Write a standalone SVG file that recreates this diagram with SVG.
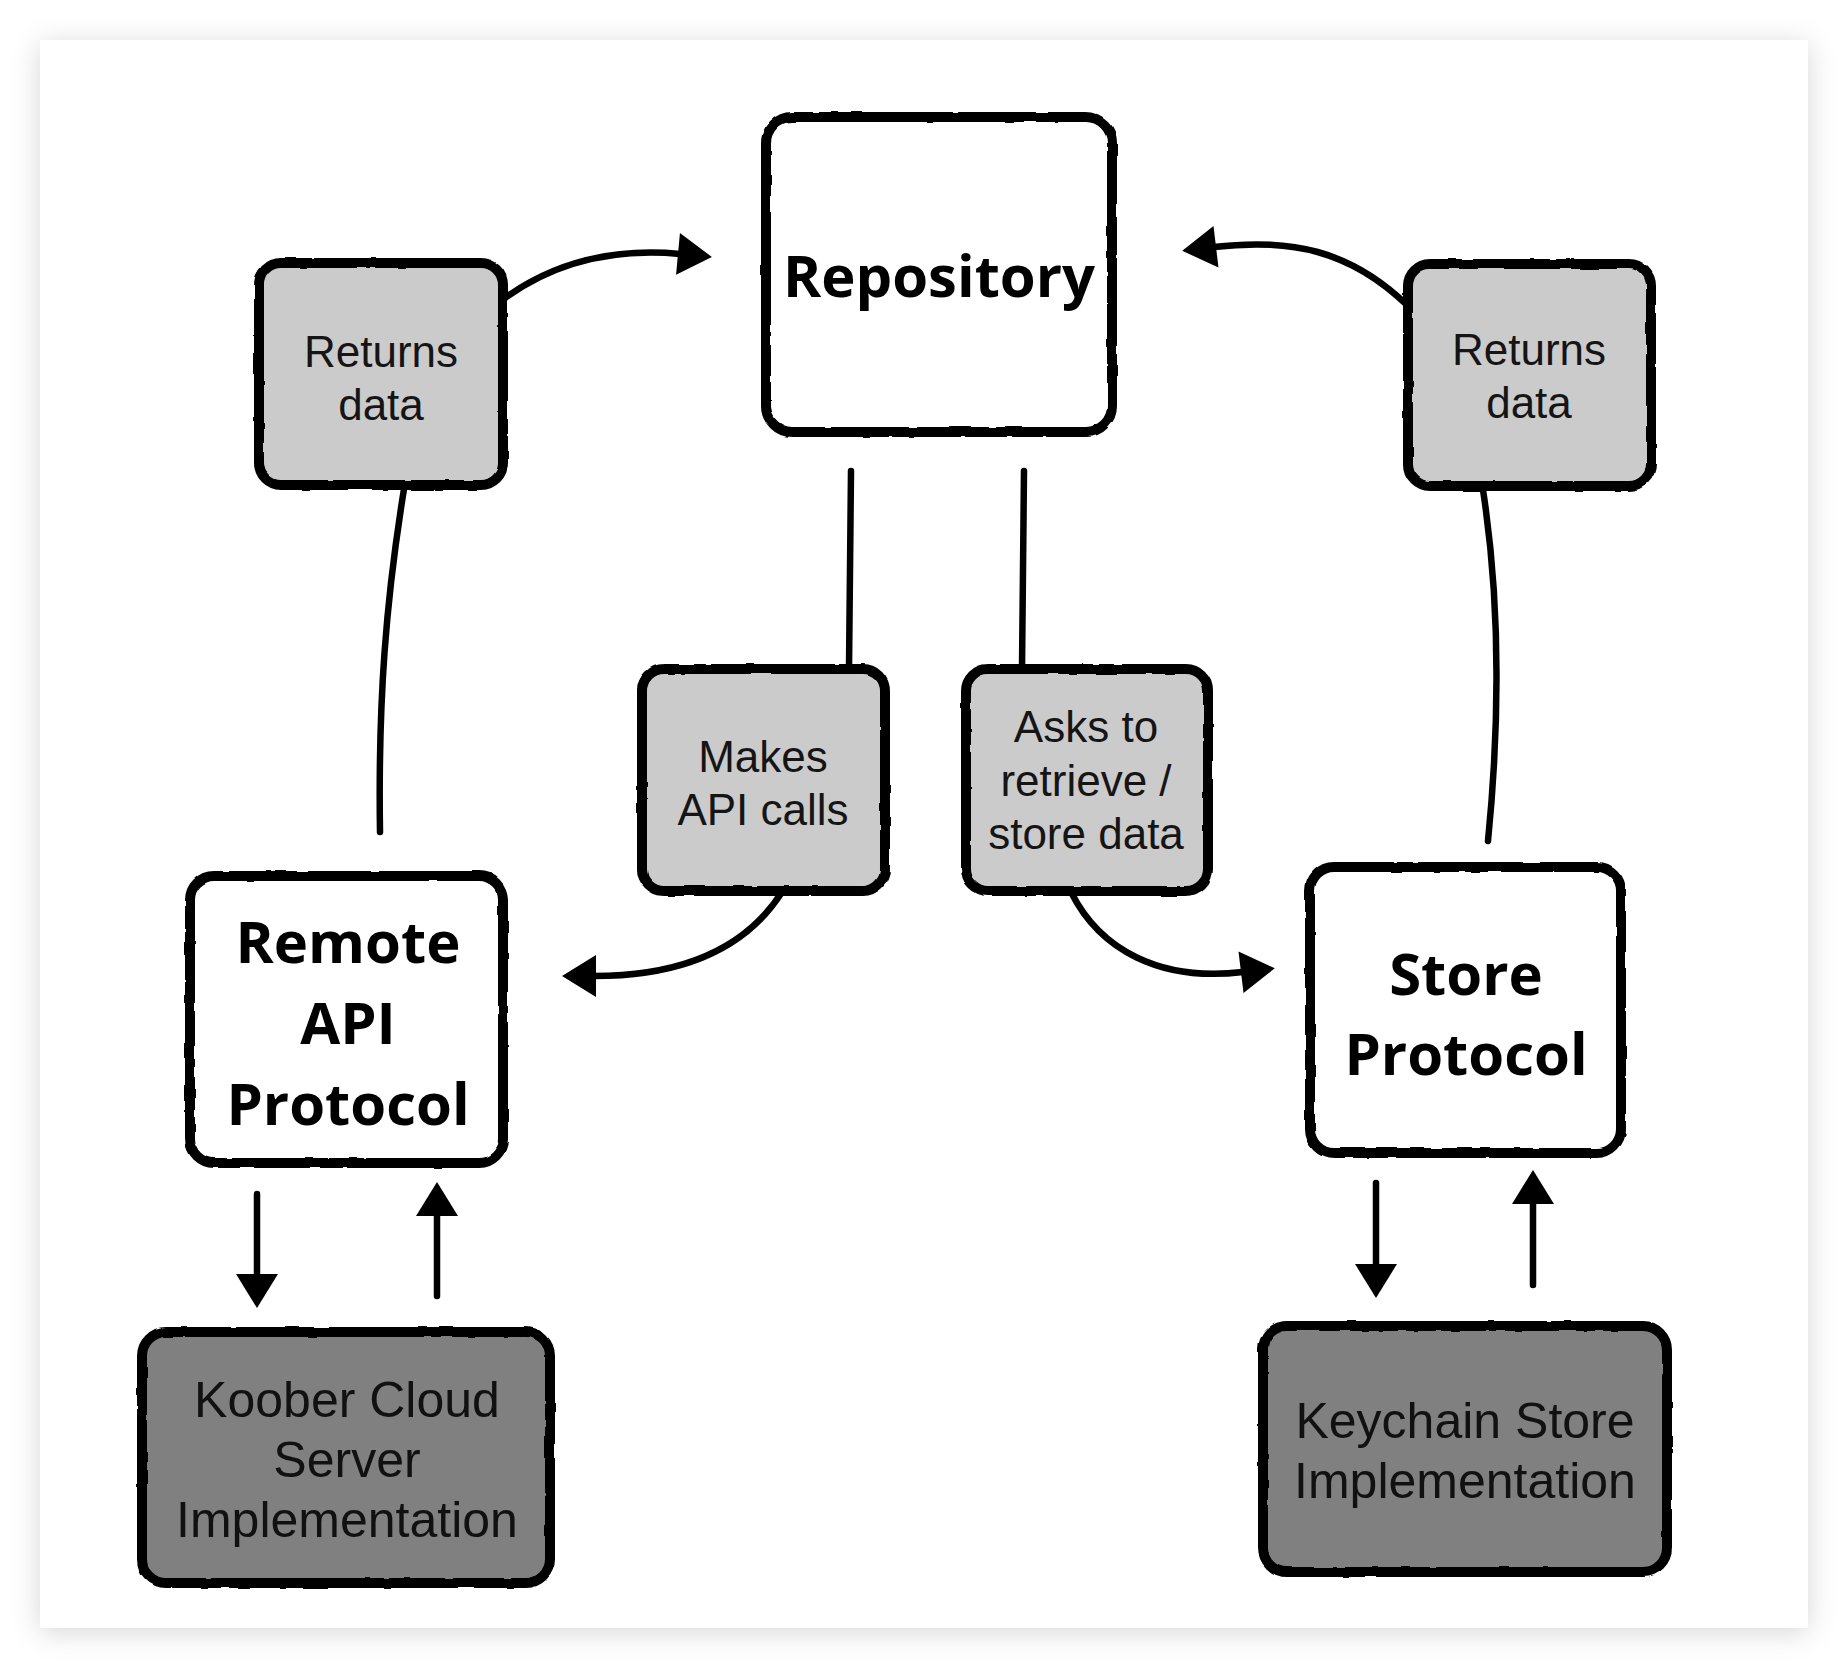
<svg xmlns="http://www.w3.org/2000/svg" width="1848" height="1668" viewBox="0 0 1848 1668">
  <defs>
    <filter id="shadow" x="-5%" y="-5%" width="110%" height="110%">
      <feDropShadow dx="0" dy="4" stdDeviation="14" flood-color="#000" flood-opacity="0.16"/>
    </filter>
    <filter id="rough" x="-5%" y="-5%" width="110%" height="110%">
      <feTurbulence type="fractalNoise" baseFrequency="0.05" numOctaves="2" seed="3" result="n"/>
      <feDisplacementMap in="SourceGraphic" in2="n" scale="3" xChannelSelector="R" yChannelSelector="G"/>
    </filter>
    <marker id="arrow" markerUnits="userSpaceOnUse" viewBox="-2 -23 38 46" markerWidth="38" markerHeight="46" refX="2" refY="0" orient="auto">
      <path d="M0,-21 L34,0 L0,21 Z" fill="#000"/>
    </marker>
  </defs>
  <style>
    .box { stroke: #000; stroke-width: 10; filter: url(#rough); }
    .white { fill: #fff; }
    .light { fill: #cccbcc; }
    .dark { fill: #808080; }
    .bold { font-family: "Open Sans", "Noto Sans", "DejaVu Sans", sans-serif; font-weight: 700; font-size: 58px; fill: #000; text-anchor: middle; }
    .small { font-family: "Liberation Sans", Arial, sans-serif; font-size: 44px; fill: #151515; text-anchor: middle; }
    .mid { font-family: "Liberation Sans", Arial, sans-serif; font-size: 50px; fill: #111; text-anchor: middle; }
    .conn { fill: none; stroke: #000; stroke-width: 6.5; stroke-linecap: round; }
  </style>

  <rect x="40" y="40" width="1768" height="1588" fill="#fff" filter="url(#shadow)"/>

  <g id="connectors">
    <path class="conn" d="M505,298 C555,262 615,248 680,254" marker-end="url(#arrow)"/>
    <path class="conn" d="M1407,305 C1350,250 1290,238 1214,247" marker-end="url(#arrow)"/>
    <path class="conn" d="M404,489 C386,600 378,700 380,832"/>
    <path class="conn" d="M1483,490 C1500,600 1500,720 1488,841"/>
    <path class="conn" d="M851,471 L849,668"/>
    <path class="conn" d="M1024,471 L1022,668"/>
    <path class="conn" d="M782,892 C745,950 680,976 594,976" marker-end="url(#arrow)"/>
    <path class="conn" d="M1071,892 C1100,950 1160,982 1243,972" marker-end="url(#arrow)"/>
    <path class="conn" d="M257,1194 L257,1276" marker-end="url(#arrow)"/>
    <path class="conn" d="M437,1296 L437,1214" marker-end="url(#arrow)"/>
    <path class="conn" d="M1376,1183 L1376,1266" marker-end="url(#arrow)"/>
    <path class="conn" d="M1533,1285 L1533,1202" marker-end="url(#arrow)"/>
  </g>

  <g id="repository">
    <rect class="box white" x="766" y="117" width="346" height="315" rx="26"/>
    <text class="bold" x="939" y="297">Repository</text>
  </g>

  <g id="returns-data-left">
    <rect class="box light" x="259" y="263" width="244" height="222" rx="22"/>
    <text class="small" x="381" y="367">Returns</text>
    <text class="small" x="381" y="420">data</text>
  </g>

  <g id="returns-data-right">
    <rect class="box light" x="1408" y="264" width="243" height="222" rx="22"/>
    <text class="small" x="1529" y="365">Returns</text>
    <text class="small" x="1529" y="418">data</text>
  </g>

  <g id="makes-api-calls">
    <rect class="box light" x="642" y="669" width="243" height="222" rx="22"/>
    <text class="small" x="763" y="772">Makes</text>
    <text class="small" x="763" y="825">API calls</text>
  </g>

  <g id="asks-to-retrieve">
    <rect class="box light" x="966" y="669" width="242" height="222" rx="22"/>
    <text class="small" x="1086" y="742">Asks to</text>
    <text class="small" x="1086" y="796">retrieve /</text>
    <text class="small" x="1086" y="849">store data</text>
  </g>

  <g id="remote-api-protocol">
    <rect class="box white" x="190" y="876" width="313" height="287" rx="24"/>
    <text class="bold" x="348" y="963">Remote</text>
    <text class="bold" x="348" y="1044">API</text>
    <text class="bold" x="348" y="1125">Protocol</text>
  </g>

  <g id="store-protocol">
    <rect class="box white" x="1310" y="867" width="311" height="286" rx="24"/>
    <text class="bold" x="1466" y="995">Store</text>
    <text class="bold" x="1466" y="1075">Protocol</text>
  </g>

  <g id="koober-cloud">
    <rect class="box dark" x="142" y="1332" width="408" height="251" rx="24"/>
    <text class="mid" x="347" y="1417">Koober Cloud</text>
    <text class="mid" x="347" y="1477">Server</text>
    <text class="mid" x="347" y="1537">Implementation</text>
  </g>

  <g id="keychain-store">
    <rect class="box dark" x="1263" y="1326" width="404" height="246" rx="24"/>
    <text class="mid" x="1465" y="1438">Keychain Store</text>
    <text class="mid" x="1465" y="1498">Implementation</text>
  </g>
</svg>
